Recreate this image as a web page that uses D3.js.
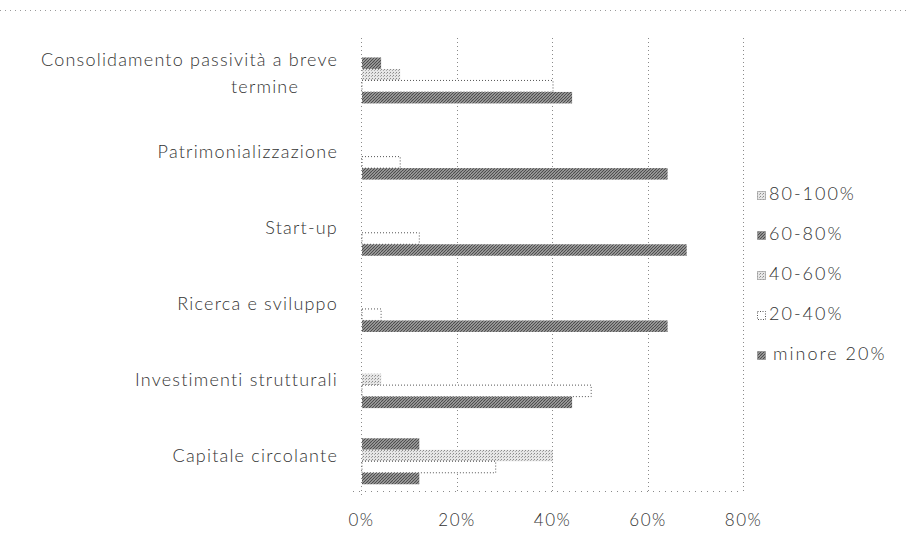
<!DOCTYPE html>
<html>
<head>
<meta charset="utf-8">
<script src="https://cdn.jsdelivr.net/npm/d3@7"></script>
<style>
  html, body { margin: 0; padding: 0; background: #fff; }
  svg { display: block; }
  text { font-family: Lato, "Open Sans", sans-serif; fill: #333; font-weight: 300; }
</style>
</head>
<body>
<svg id="chart" width="910" height="544"></svg>
<script>
// Categories, listed top to bottom as drawn
const categories = [
  "Consolidamento passività a breve termine",
  "Patrimonializzazione",
  "Start-up",
  "Ricerca e sviluppo",
  "Investimenti strutturali",
  "Capitale circolante"
];
// Series values (%), one per category
const s80_100  = [0, 0, 0, 0, 0, 0];
const s60_80   = [4, 0, 0, 0, 0, 12];
const s40_60   = [8, 0, 0, 0, 4, 40];
const s20_40   = [40, 8, 12, 4, 48, 28];
const sMinore20 = [44, 64, 68, 64, 44, 12];
const seriesNames = ["80-100%", "60-80%", "40-60%", "20-40%", "minore 20%"];
const xTicks = [0, 20, 40, 60, 80];

const seriesValues = [s80_100, s60_80, s40_60, s20_40, sMinore20];
const seriesFill = ["url(#pLight)", "url(#pDark)", "url(#pLight)", "#ffffff", "url(#pDark)"];
const seriesDotted = [false, false, false, true, false];

const svg = d3.select("#chart");
const defs = svg.append("defs");

// dark grainy diagonal texture
const pd = defs.append("pattern").attr("id", "pDark").attr("patternUnits", "userSpaceOnUse")
  .attr("width", 6).attr("height", 6);
pd.append("rect").attr("width", 6).attr("height", 6).attr("fill", "#b0b0b0");
pd.append("path").attr("d", "M0,6 L6,0 M-1,1 L1,-1 M5,7 L7,5 M0,3 L3,0 M3,6 L6,3")
  .attr("stroke", "#4a4a4a").attr("stroke-width", 1.1);

// light dotted texture
const pl = defs.append("pattern").attr("id", "pLight").attr("patternUnits", "userSpaceOnUse")
  .attr("width", 3).attr("height", 3);
pl.append("rect").attr("width", 3).attr("height", 3).attr("fill", "#e6e6e6");
pl.append("rect").attr("x", 0).attr("y", 0).attr("width", 1).attr("height", 1).attr("fill", "#8a8a8a");
pl.append("rect").attr("x", 2).attr("y", 1).attr("width", 1).attr("height", 1).attr("fill", "#acacac");

const plotLeft = 361, plotRight = 743, plotTop = 34, plotBottom = 491;

const x = d3.scaleLinear().domain([0, 80]).range([plotLeft, plotRight]);
const y = d3.scaleBand().domain(categories).range([plotTop, plotBottom]).padding(0);
const ySeries = d3.scaleBand().domain(seriesNames).range([0, y.bandwidth()])
  .paddingInner(0).paddingOuter(0.813).align(0.64);

// outer chart border (top dotted line)
svg.append("line").attr("x1", 0).attr("x2", 910).attr("y1", 10.5).attr("y2", 10.5)
  .attr("stroke", "#9a9a9a").attr("stroke-dasharray", "1,4");

// gridlines
svg.append("g").selectAll("line").data(xTicks.slice(1)).join("line")
  .attr("x1", d => Math.round(x(d)) + 0.5).attr("x2", d => Math.round(x(d)) + 0.5)
  .attr("y1", 38).attr("y2", plotBottom)
  .attr("stroke", "#8a8a8a").attr("stroke-dasharray", "1,3");

// axis lines (dotted)
svg.append("line").attr("x1", plotLeft + 0.5).attr("x2", plotLeft + 0.5).attr("y1", 38).attr("y2", plotBottom + 4)
  .attr("stroke", "#8a8a8a").attr("stroke-dasharray", "1,3");
svg.append("line").attr("x1", plotLeft - 8).attr("x2", plotRight).attr("y1", plotBottom + 0.5).attr("y2", plotBottom + 0.5)
  .attr("stroke", "#8a8a8a").attr("stroke-dasharray", "1,5");

// bars
const barData = [];
categories.forEach((c, ci) => {
  seriesNames.forEach((s, si) => {
    barData.push({ cat: c, series: s, si, value: seriesValues[si][ci] });
  });
});
svg.append("g").selectAll("rect").data(barData.filter(d => d.value > 0)).join("rect")
  .attr("x", x(0) + 1)
  .attr("y", d => y(d.cat) + ySeries(d.series))
  .attr("width", d => x(d.value) - x(0))
  .attr("height", ySeries.bandwidth())
  .attr("fill", d => seriesFill[d.si])
  .attr("stroke", d => seriesDotted[d.si] ? "#555" : "none")
  .attr("stroke-width", 1)
  .attr("stroke-dasharray", d => seriesDotted[d.si] ? "1,2" : null);

// x axis labels
const xAxis = d3.axisBottom(x).tickValues(xTicks).tickFormat(d => d + "%").tickSize(0).tickPadding(0);
const gx = svg.append("g").attr("transform", `translate(0, 514)`).call(xAxis);
gx.select(".domain").remove();
gx.selectAll("text").attr("font-size", 17).attr("font-family", "Lato, sans-serif").attr("fill", "#333")
  .attr("letter-spacing", 1.5).attr("dy", "0.7em");

// category labels
const labelG = svg.append("g").attr("font-size", 18).attr("letter-spacing", 1.2);
categories.forEach((c, i) => {
  const cy = y(c) + y.bandwidth() / 2;
  if (i === 0) {
    labelG.append("text").attr("x", 338).attr("y", 62).attr("text-anchor", "end")
      .attr("dominant-baseline", "middle").text("Consolidamento passività a breve");
    labelG.append("text").attr("x", 265).attr("y", 89).attr("text-anchor", "middle")
      .attr("dominant-baseline", "middle").text("termine");
  } else {
    labelG.append("text").attr("x", 338).attr("y", cy + 5).attr("text-anchor", "end")
      .attr("dominant-baseline", "middle").text(c);
  }
});

// legend
const legend = svg.append("g").attr("transform", "translate(757, 196)");
seriesNames.forEach((s, i) => {
  const g = legend.append("g").attr("transform", `translate(0, ${i * 40})`);
  g.append("rect").attr("x", 0.5).attr("y", -4.5).attr("width", 8).attr("height", 8)
    .attr("fill", seriesFill[i])
    .attr("stroke", seriesDotted[i] ? "#555" : "#777")
    .attr("stroke-width", 1)
    .attr("stroke-dasharray", seriesDotted[i] ? "1,1.5" : "1,1");
  g.append("text").attr("x", i === 4 ? 16 : 12).attr("y", 0).attr("dominant-baseline", "middle")
    .attr("font-size", 18).attr("letter-spacing", 2).text(s);
});
</script>
</body>
</html>
